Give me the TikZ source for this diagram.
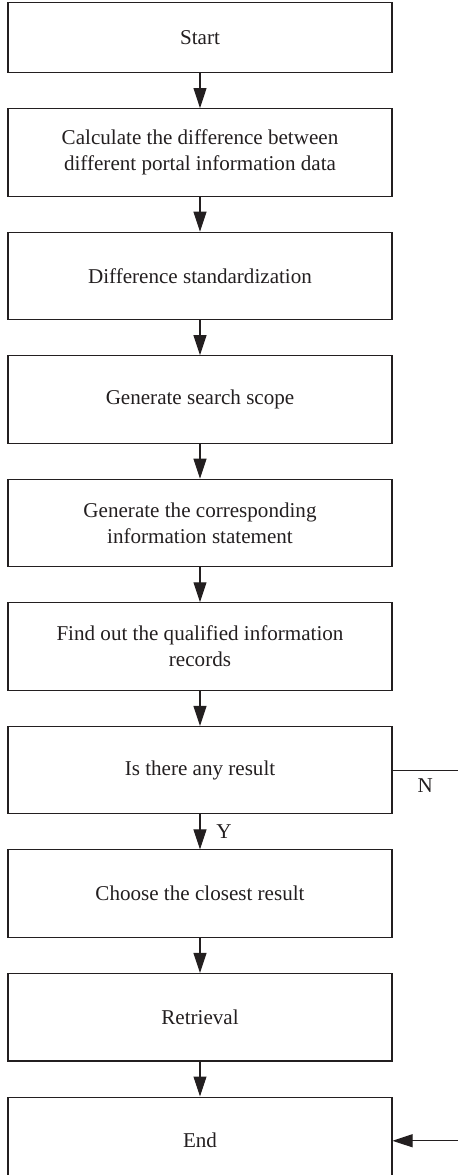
\documentclass[tikz,border=0pt]{standalone}
\usepackage{fontspec}
\setmainfont{Liberation Serif}
\usetikzlibrary{arrows.meta,positioning}
\definecolor{inkgray}{RGB}{35,31,32}

\begin{document}
\begin{tikzpicture}[node distance=0.7cm,>={Triangle[length=0.4cm,width=0.26cm]}]
\tikzset{b/.style={draw=inkgray,line width=0.6pt,minimum width=7.68cm,minimum height=1.75cm,align=center,font=\fontsize{12}{14.8}\selectfont,text=inkgray,inner sep=0pt},
  link/.style={->,draw=inkgray,line width=0.6pt}}
\useasboundingbox (0,0) rectangle (9.16,-23.5);
\node[b,minimum height=1.4cm,anchor=north] (s0) at (4,-0.04) {Start};
\node[b,below=of s0] (s1) {Calculate the difference between\\different portal information data};
\node[b,below=of s1] (s2) {Difference standardization};
\node[b,below=of s2] (s3) {Generate search scope};
\node[b,below=of s3] (s4) {Generate the corresponding\\information statement};
\node[b,below=of s4] (s5) {Find out the qualified information\\records};
\node[b,below=of s5] (s6) {Is there any result};
\node[b,below=of s6] (s7) {Choose the closest result};
\node[b,below=of s7] (s8) {Retrieval};
\node[b,below=of s8] (s9) {End};
\coordinate (nout) at (9.16,0 |- s6.east);
\coordinate (nin) at (9.16,0 |- s9.east);
\draw[link] (s0) -- (s1);
\draw[link] (s1) -- (s2);
\draw[link] (s2) -- (s3);
\draw[link] (s3) -- (s4);
\draw[link] (s4) -- (s5);
\draw[link] (s5) -- (s6);
\draw[link] (s6) -- node[right,xshift=0.2cm,font=\fontsize{12}{14}\selectfont,text=inkgray] {Y} (s7);
\draw[link] (s7) -- (s8);
\draw[link] (s8) -- (s9);
\draw[draw=inkgray,line width=0.6pt] (s6.east) -- node[below,yshift=-0.05cm,font=\fontsize{12}{14}\selectfont,text=inkgray] {N} (nout);
\draw[link] (nin) -- (s9.east);
\end{tikzpicture}
\end{document}
